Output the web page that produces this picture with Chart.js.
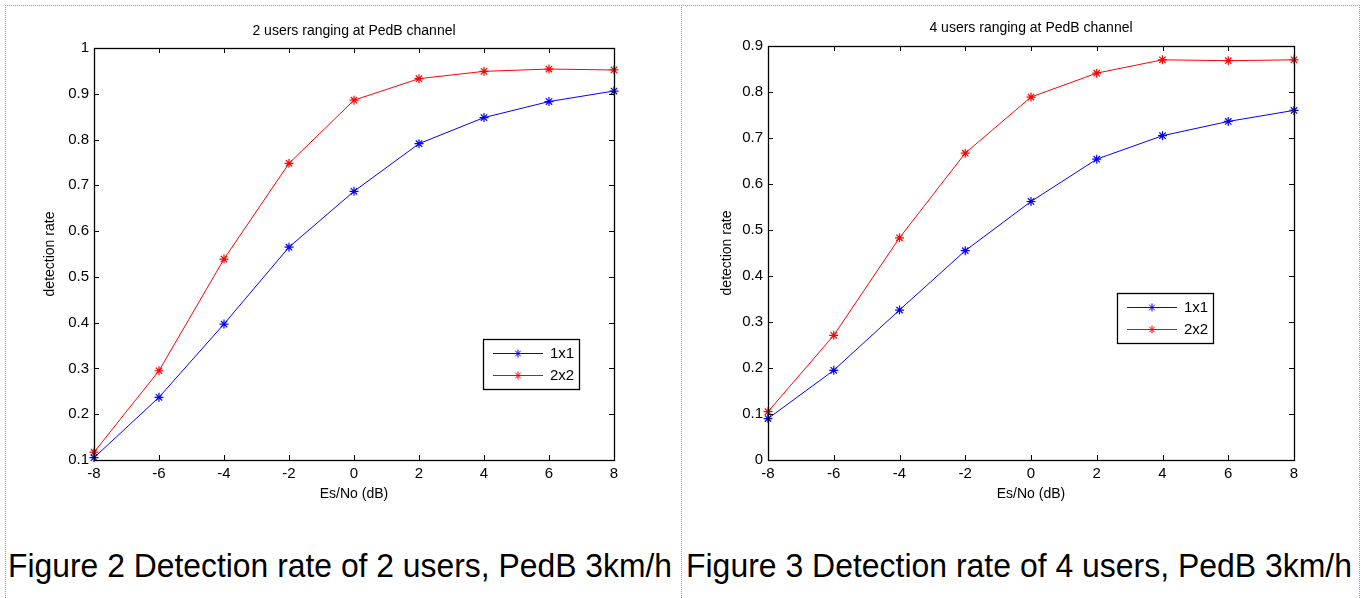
<!DOCTYPE html>
<html>
<head>
<meta charset="utf-8">
<script src="https://cdn.jsdelivr.net/npm/chart.js@4.4.1/dist/chart.umd.min.js"></script>
<style>
  body { margin: 0; background: #fff; width: 1362px; height: 598px; overflow: hidden; position: relative; font-family: Arial, "Liberation Sans", sans-serif; }
  .panel { position: absolute; top: 5px; height: 620px; border-top: 1px dotted #9a9a9a; }
  #panelL { left: 5px; width: 675px; border-left: 1px dotted #9a9a9a; border-right: 1px dotted #9a9a9a; }
  #panelR { left: 681px; width: 678px; border-right: 1px dotted #9a9a9a; }
  canvas { position: absolute; top: 0; }
  .caption { position: absolute; top: 548px; font-size: 34px; line-height: 1; white-space: nowrap; color: #000; transform-origin: 0 0; }
</style>
</head>
<body>
<div class="panel" id="panelL"></div>
<div class="panel" id="panelR"></div>
<canvas id="chartL" width="680" height="520" style="left:0"></canvas>
<canvas id="chartR" width="682" height="520" style="left:680px"></canvas>
<div class="caption" id="capL" style="left:8px" data-w="664">Figure 2 Detection rate of 2 users, PedB 3km/h</div>
<div class="caption" id="capR" style="left:686px" data-w="666">Figure 3 Detection rate of 4 users, PedB 3km/h</div>

<script>
// Es/No points (dB)
const snrDb = [-8, -6, -4, -2, 0, 2, 4, 6, 8];
const seriesNames = ['1x1', '2x2'];

// 2 users
const users2Rate1x1 = [0.105, 0.237, 0.397, 0.565, 0.687, 0.791, 0.848, 0.883, 0.906];
const users2Rate2x2 = [0.117, 0.295, 0.539, 0.748, 0.886, 0.933, 0.949, 0.954, 0.952];
const users2YRange = [0.1, 1];

// 4 users
const users4Rate1x1 = [0.090, 0.195, 0.326, 0.455, 0.562, 0.654, 0.705, 0.736, 0.760];
const users4Rate2x2 = [0.105, 0.271, 0.483, 0.667, 0.789, 0.841, 0.870, 0.868, 0.870];
const users4YRange = [0, 0.9];

const xRange = [-8, 8];
const seriesColors = ['#0000ff', '#ff0000'];

function drawStar(ctx, x, y, r) {
  ctx.beginPath();
  ctx.moveTo(x - r, y); ctx.lineTo(x + r, y);
  ctx.moveTo(x, y - r); ctx.lineTo(x, y + r);
  const d = r * 0.707;
  ctx.moveTo(x - d, y - d); ctx.lineTo(x + d, y + d);
  ctx.moveTo(x - d, y + d); ctx.lineTo(x + d, y - d);
  ctx.stroke();
}

// matlab style box: frame + inward ticks on all sides, legend inside
const boxPlugin = {
  id: 'matlabBox',
  afterDatasetsDraw(chart) {
    const { ctx, chartArea: a, scales } = chart;
    ctx.save();
    ctx.strokeStyle = '#000';
    ctx.lineWidth = 1;
    const tl = 5;
    ctx.beginPath();
    scales.x.ticks.forEach(t => {
      const px = Math.round(scales.x.getPixelForValue(t.value)) + 0.5;
      ctx.moveTo(px, a.bottom); ctx.lineTo(px, a.bottom - tl);
      ctx.moveTo(px, a.top); ctx.lineTo(px, a.top + tl);
    });
    scales.y.ticks.forEach(t => {
      const py = Math.round(scales.y.getPixelForValue(t.value)) + 0.5;
      ctx.moveTo(a.left, py); ctx.lineTo(a.left + tl, py);
      ctx.moveTo(a.right, py); ctx.lineTo(a.right - tl, py);
    });
    ctx.stroke();
    ctx.lineWidth = 1.3;
    ctx.strokeRect(Math.round(a.left) + 0.5, Math.round(a.top) + 0.5, Math.round(a.right - a.left), Math.round(a.bottom - a.top));
    ctx.restore();
  },
  afterDraw(chart, args, opts) {
    const { ctx } = chart;
    const b = opts.box;
    ctx.save();
    ctx.fillStyle = '#fff';
    ctx.fillRect(b.x, b.y, b.w, b.h);
    ctx.strokeStyle = '#000';
    ctx.lineWidth = 1.3;
    ctx.strokeRect(b.x + 0.5, b.y + 0.5, b.w, b.h);
    ctx.font = '15px Arial, "Liberation Sans", sans-serif';
    ctx.textBaseline = 'middle';
    chart.data.datasets.forEach((ds, i) => {
      const y = b.y + 14 + i * 22;
      ctx.strokeStyle = ds.borderColor;
      ctx.lineWidth = 1;
      ctx.beginPath();
      ctx.moveTo(b.x + 10, y + 0.5); ctx.lineTo(b.x + 60, y + 0.5);
      ctx.stroke();
      drawStar(ctx, b.x + 35, y + 0.5, 4);
      ctx.fillStyle = '#000';
      ctx.fillText(ds.label, b.x + 67, y + 1);
    });
    ctx.restore();
  }
};

function makeChart(id, title, s1, s2, yRange, area, legendBox, titlePad, yTitlePad) {
  const canvas = document.getElementById(id);
  const W = canvas.width, H = canvas.height;
  const font = { family: 'Arial, "Liberation Sans", sans-serif', size: 14, weight: 'normal' };
  const tickFont = { family: font.family, size: 15 };
  const mk = (lbl, data, color) => ({
    label: lbl,
    data: snrDb.map((x, i) => ({ x: x, y: data[i] })),
    borderColor: color, backgroundColor: color,
    borderWidth: 1, pointStyle: 'star', pointRadius: 4.5, pointBorderWidth: 1.2,
    pointHoverRadius: 4.5, tension: 0, clip: false
  });
  return new Chart(canvas, {
    type: 'line',
    data: { datasets: [mk(seriesNames[0], s1, seriesColors[0]), mk(seriesNames[1], s2, seriesColors[1])] },
    options: {
      responsive: false, animation: false, events: [],
      layout: { padding: { left: 0, top: 0, right: W - area.right, bottom: 0 } },
      plugins: {
        legend: { display: false }, tooltip: { enabled: false },
        title: { display: true, text: title, fullSize: false, color: '#000', font: font, padding: titlePad },
        matlabBox: { box: legendBox }
      },
      scales: {
        x: {
          type: 'linear', min: xRange[0], max: xRange[1],
          grid: { display: false, drawTicks: false }, border: { display: false },
          ticks: { stepSize: 2, color: '#000', font: tickFont, padding: 5, maxRotation: 0 },
          title: { display: true, text: 'Es/No (dB)', color: '#000', font: font, padding: { top: 0, bottom: 17.6 } },
          afterFit: s => { s.height = H - area.bottom; }
        },
        y: {
          min: yRange[0], max: yRange[1],
          grid: { display: false, drawTicks: false }, border: { display: false },
          ticks: { stepSize: 0.1, color: '#000', font: tickFont, padding: 5,
                   callback: v => String(Number(v.toFixed(1))) },
          title: { display: true, text: 'detection rate', color: '#000', font: font, padding: { top: yTitlePad, bottom: 0 } },
          afterFit: s => { s.width = area.left; }
        }
      }
    },
    plugins: [boxPlugin]
  });
}

makeChart('chartL', '2 users ranging at PedB channel', users2Rate1x1, users2Rate2x2, users2YRange,
  { left: 94, right: 614, bottom: 460 }, { x: 483, y: 339, w: 96, h: 50 }, { top: 23, bottom: 8.2 }, 41.6);
makeChart('chartR', '4 users ranging at PedB channel', users4Rate1x1, users4Rate2x2, users4YRange,
  { left: 88, right: 614, bottom: 460 }, { x: 437, y: 293, w: 96, h: 50 }, { top: 20, bottom: 9.2 }, 38.6);

document.querySelectorAll('.caption').forEach(el => {
  const w = el.getBoundingClientRect().width;
  el.style.transform = 'scaleX(' + (Number(el.dataset.w) / w) + ')';
});
</script>
</body>
</html>
